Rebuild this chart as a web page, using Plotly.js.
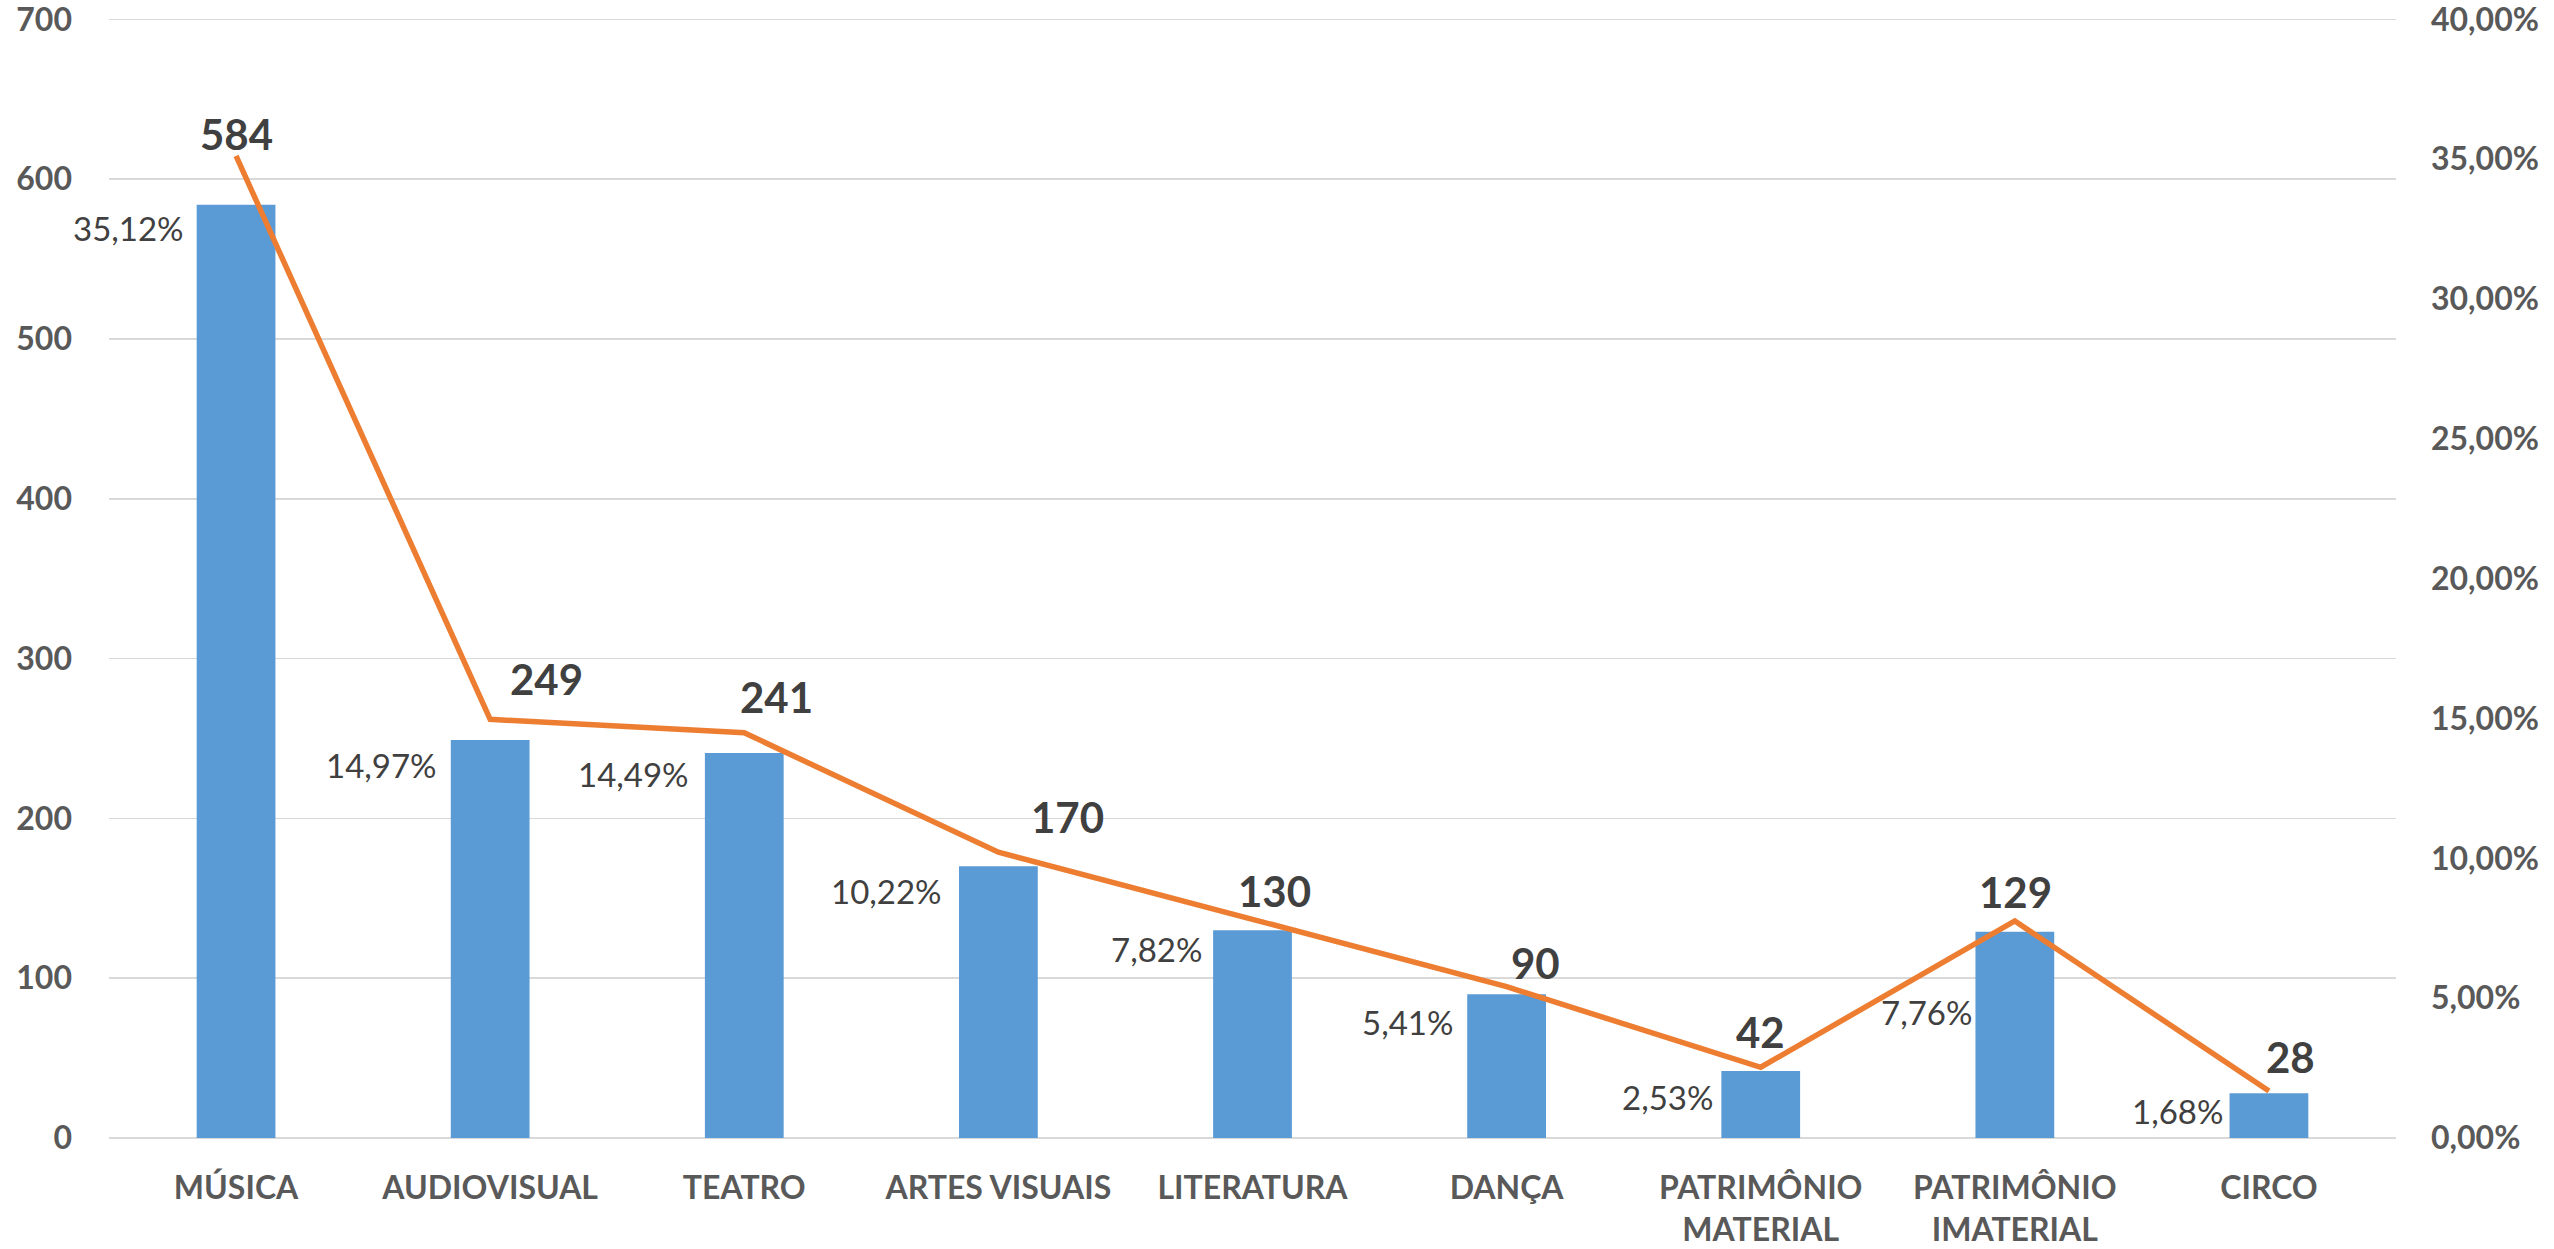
<!DOCTYPE html>
<html>
<head>
<meta charset="utf-8">
<script src="https://cdn.plot.ly/plotly-3.0.1.min.js"></script>
<style>
html,body{margin:0;padding:0;background:#fff;}
#chart{width:2554px;height:1249px;}
</style>
</head>
<body>
<div id="chart"></div>
<script>
// ---- data ----
const categories = ["MÚSICA","AUDIOVISUAL","TEATRO","ARTES VISUAIS","LITERATURA","DANÇA","PATRIMÔNIO<br>MATERIAL","PATRIMÔNIO<br>IMATERIAL","CIRCO"];
const counts = [584, 249, 241, 170, 130, 90, 42, 129, 28];
const shares = [0.3512, 0.1497, 0.1449, 0.1022, 0.0782, 0.0541, 0.0253, 0.0776, 0.0168];
const leftTicks = [0, 100, 200, 300, 400, 500, 600, 700];
const rightTicks = [0, 0.05, 0.10, 0.15, 0.20, 0.25, 0.30, 0.35, 0.40];

// ---- label placement (pixels, style only) ----
const pctGap = [11, 12, 14, 15, 9, 12, 6, 1, 4];
const pctDown = [23, 25, 21, 25, 19, 28, 26, 80, 18];
const valDx = [0, 56, 32, 69, 22, 29, 0, 1, 22];
const valUp = [71, 61, 56, 49, 39, 31, 39, 40, 36];

const FONT = "Lato, 'Open Sans', sans-serif";
const halfBar = 39.5;
const topPad = 1.5; // keep the top gridline just inside the plot

const annotations = [];
categories.forEach((c, i) => {
  annotations.push({
    x: c, y: counts[i], xref: 'x', yref: 'y',
    text: (shares[i] * 100).toFixed(2).replace('.', ',') + '%',
    showarrow: false, xanchor: 'right', yanchor: 'middle',
    xshift: -(halfBar + pctGap[i]), yshift: -pctDown[i],
    font: {family: FONT, size: 33, color: '#404040'}
  });
  annotations.push({
    x: c, y: counts[i], xref: 'x', yref: 'y',
    text: '<b>' + counts[i] + '</b>',
    showarrow: false, xanchor: 'center', yanchor: 'middle',
    xshift: valDx[i], yshift: valUp[i],
    font: {family: FONT, size: 42, color: '#404040'}
  });
});

const traces = [
  {
    type: 'bar', x: categories, y: counts, yaxis: 'y',
    marker: {color: '#5B9BD5'}, hoverinfo: 'skip', showlegend: false
  },
  {
    type: 'scatter', mode: 'lines', x: categories, y: shares, yaxis: 'y2',
    line: {color: '#ED7D31', width: 5.5}, hoverinfo: 'skip', showlegend: false
  }
];

const yTop = 700 + topPad;
const layout = {
  width: 2554, height: 1249,
  margin: {l: 109, r: 158, t: 17, b: 111, pad: 0},
  paper_bgcolor: '#ffffff', plot_bgcolor: '#ffffff',
  separators: ',.',
  bargap: 0.69,
  showlegend: false,
  font: {family: FONT, color: '#595959'},
  xaxis: {
    type: 'category', range: [-0.5, categories.length - 0.5], autorange: false,
    showgrid: false, zeroline: false, showline: false,
    ticks: '', ticklabelstandoff: 28,
    tickfont: {family: FONT, size: 32, color: '#595959', weight: 'bold'}
  },
  yaxis: {
    range: [0, yTop], autorange: false, tickvals: leftTicks,
    showgrid: true, gridcolor: '#D9D9D9', gridwidth: 1.5,
    zeroline: true, zerolinecolor: '#D9D9D9', zerolinewidth: 2, showline: false, ticks: '',
    ticklabelstandoff: 36, ticklabeloverflow: 'allow',
    tickfont: {family: FONT, size: 32, color: '#595959', weight: 'bold'}
  },
  yaxis2: {
    range: [0, 0.4 * yTop / 700], autorange: false, tickvals: rightTicks, overlaying: 'y', side: 'right',
    tickformat: '.2%', showgrid: false, zeroline: false, showline: false, ticks: '',
    ticklabelstandoff: 34, ticklabeloverflow: 'allow',
    tickfont: {family: FONT, size: 32, color: '#595959', weight: 'bold'}
  },
  annotations: annotations
};

Plotly.newPlot('chart', traces, layout, {displayModeBar: false, staticPlot: true});
</script>
</body>
</html>
